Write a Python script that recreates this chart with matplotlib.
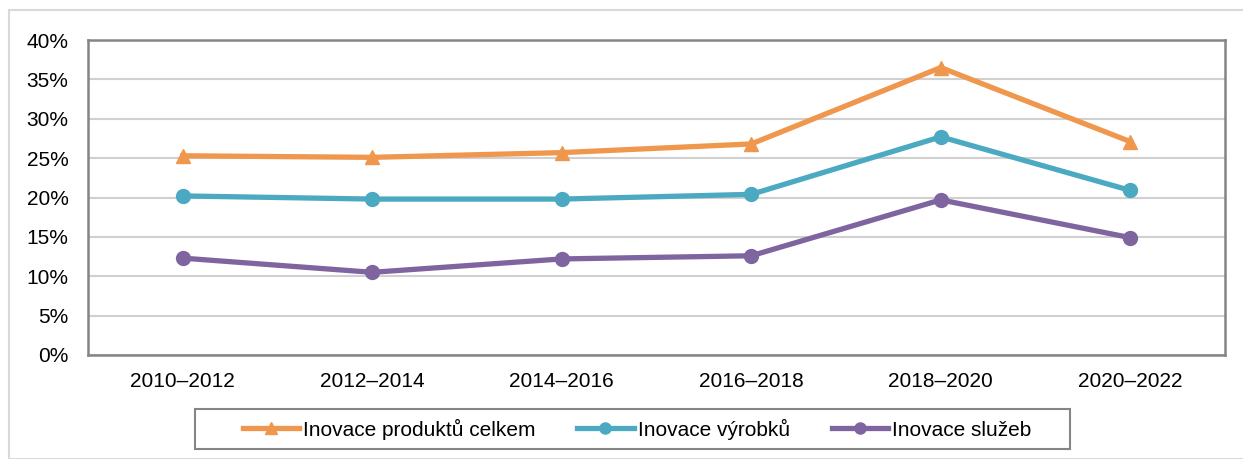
import matplotlib
matplotlib.use("Agg")
import matplotlib.pyplot as plt
from matplotlib.patches import Rectangle
from matplotlib.ticker import FuncFormatter
from matplotlib.lines import Line2D

plt.rcParams['font.family'] = ['Liberation Sans', 'DejaVu Sans']

categories = ["2010–2012", "2012–2014", "2014–2016", "2016–2018", "2018–2020", "2020–2022"]
produkty = [25.3, 25.1, 25.7, 26.8, 36.5, 27.1]
vyrobky = [20.2, 19.8, 19.8, 20.4, 27.7, 20.9]
sluzby = [12.3, 10.5, 12.2, 12.6, 19.7, 14.9]
labels = ["Inovace produktů celkem", "Inovace výrobků", "Inovace služeb"]

W, H = 1243, 459
fig = plt.figure(figsize=(W / 100, H / 100), dpi=100)
fig.patches.append(Rectangle((9 / W, 0), 1.2, (H - 10) / H, transform=fig.transFigure,
                             fill=False, edgecolor="#D9D9D9", linewidth=1.5))
ax = fig.add_axes([88 / W, 1 - 355 / H, (1225 - 88) / W, (355 - 40) / H])

colors = ["#F0974E", "#4BA9C2", "#7F65A0"]
markers = ["^", "o", "o"]
x = list(range(len(categories)))
for vals, c, m, lab in zip([produkty, vyrobky, sluzby], colors, markers, labels):
    ax.plot(x, vals, color=c, lw=3.8, marker=m, ms=10, label=lab)

ax.set_xlim(-0.5, len(categories) - 0.5)
ax.set_ylim(0, 40)
ax.set_yticks(range(0, 41, 5))
ax.yaxis.set_major_formatter(FuncFormatter(lambda v, p: f"{int(v)}%"))
ax.set_xticks(x)
ax.set_xticklabels(categories)
ax.tick_params(axis="both", length=0, labelsize=15, colors="black")
ax.tick_params(axis="y", pad=14)
ax.tick_params(axis="x", pad=12)
ax.grid(axis="y", color="#D0D0D0", lw=1.5)
ax.set_axisbelow(True)
for s in ax.spines.values():
    s.set_color("#858585")
    s.set_linewidth(1.8)

# legend frame
fig.patches.append(Rectangle((195 / W, 1 - 449 / H), (1070 - 195) / W, 40 / H,
                             transform=fig.transFigure, fill=False,
                             edgecolor="#858585", linewidth=1.5))
handles = [Line2D([], [], color=c, lw=3.8, marker=m, ms=8) for c, m in zip(colors, markers)]
leg = fig.legend(handles, labels, loc="center", bbox_to_anchor=(637 / W, 1 - 429 / H), ncol=3,
                 fontsize=15, frameon=False, handlelength=2.7,
                 handletextpad=0.2, columnspacing=2.0, borderpad=0.3)

fig.savefig("out.png", dpi=100)
